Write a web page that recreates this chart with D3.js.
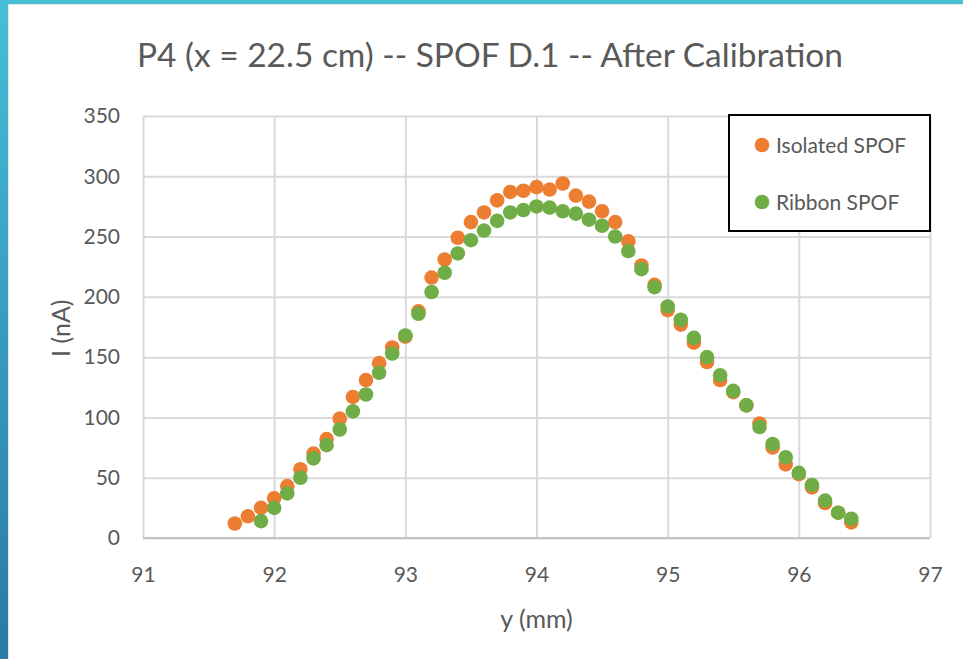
<!DOCTYPE html>
<html>
<head>
<meta charset="utf-8">
<script src="https://cdn.jsdelivr.net/npm/d3@7/dist/d3.min.js"></script>
<style>
  html, body { margin: 0; padding: 0; background: #ffffff; }
  #chart { width: 963px; height: 659px; overflow: hidden; }
  .tick text { font-family: Lato, "Open Sans", sans-serif; fill: #595959; }
</style>
</head>
<body>
<div id="chart"></div>
<script>
// y positions (mm), step 0.1
var isolatedY = [91.7, 91.8, 91.9, 92.0, 92.1, 92.2, 92.3, 92.4, 92.5, 92.6,
  92.7, 92.8, 92.9, 93.0, 93.1, 93.2, 93.3, 93.4, 93.5, 93.6,
  93.7, 93.8, 93.9, 94.0, 94.1, 94.2, 94.3, 94.4, 94.5, 94.6,
  94.7, 94.8, 94.9, 95.0, 95.1, 95.2, 95.3, 95.4, 95.5, 95.6,
  95.7, 95.8, 95.9, 96.0, 96.1, 96.2, 96.3, 96.4];
var isolatedI = [12, 18, 25, 33, 43, 57, 70, 82, 99, 117,
  131, 145, 158, 167, 188, 216, 231, 249, 262, 270,
  280, 287, 288, 291, 289, 294, 284, 279, 271, 262,
  246, 226, 210, 189, 177, 162, 146, 131, 121, 110,
  95, 75, 61, 53, 42, 29, 21, 13];

var ribbonY = [91.9, 92.0, 92.1, 92.2, 92.3, 92.4, 92.5, 92.6, 92.7, 92.8,
  92.9, 93.0, 93.1, 93.2, 93.3, 93.4, 93.5, 93.6, 93.7, 93.8,
  93.9, 94.0, 94.1, 94.2, 94.3, 94.4, 94.5, 94.6, 94.7, 94.8,
  94.9, 95.0, 95.1, 95.2, 95.3, 95.4, 95.5, 95.6, 95.7, 95.8,
  95.9, 96.0, 96.1, 96.2, 96.3, 96.4];
var ribbonI = [14, 25, 37, 50, 66, 77, 90, 105, 119, 137,
  153, 168, 186, 204, 220, 236, 247, 255, 263, 270,
  272, 275, 274, 271, 269, 264, 259, 250, 238, 223,
  208, 192, 181, 166, 150, 135, 122, 110, 92, 78,
  67, 54, 44, 31, 21, 16];

var xTicks = [91, 92, 93, 94, 95, 96, 97];
var yTicks = [0, 50, 100, 150, 200, 250, 300, 350];
var seriesNames = ["Isolated SPOF", "Ribbon SPOF"];

(function () {
  'use strict';

  const WIDTH = 963;
  const HEIGHT = 659;
  const COLOR_1 = '#ED7D31';
  const COLOR_2 = '#70AD47';
  const FONT = 'Lato, "Open Sans", sans-serif';
  const margin = { top: 116, right: 33, bottom: 121, left: 143 };

  var width = WIDTH - margin.left - margin.right;
  var height = HEIGHT - margin.top - margin.bottom;

  var svg = d3.select("#chart").append("svg")
    .attr("width", WIDTH)
    .attr("height", HEIGHT);

  /* slide background peeking at the left and top */
  var grad = svg.append("defs").append("linearGradient")
    .attr("id", "slideBg")
    .attr("x1", 0).attr("y1", 0).attr("x2", 0).attr("y2", 1);
  grad.append("stop").attr("offset", "0%").attr("stop-color", "#45bfd6");
  grad.append("stop").attr("offset", "100%").attr("stop-color", "#2a7aa3");

  svg.append("rect").attr("x", 0).attr("y", 0)
    .attr("width", WIDTH).attr("height", 4).style("fill", "#46bfd5");
  svg.append("rect").attr("x", 0).attr("y", 0)
    .attr("width", 8).attr("height", HEIGHT).style("fill", "url(#slideBg)");
  svg.append("line")
    .attr("x1", 8).attr("x2", WIDTH).attr("y1", 4.5).attr("y2", 4.5)
    .style("stroke", "#e6e6e6");
  svg.append("line")
    .attr("x1", 8.5).attr("x2", 8.5).attr("y1", 4).attr("y2", HEIGHT)
    .style("stroke", "#e6e6e6");

  var x = d3.scaleLinear().domain([91, 97]).range([0, width]);
  var y = d3.scaleLinear().domain([0, 350]).range([height, 0]);

  var g = svg.append("g")
    .attr("transform", "translate(" + margin.left + "," + margin.top + ")");

  var xAxis = d3.axisBottom(x)
    .tickValues(xTicks)
    .tickFormat(d3.format("d"))
    .tickSize(-height)
    .tickPadding(29);

  var yAxis = d3.axisLeft(y)
    .tickValues(yTicks)
    .tickFormat(d3.format("d"))
    .tickSize(-width)
    .tickPadding(23);

  var gx = g.append("g")
    .attr("class", "x axis")
    .attr("transform", "translate(0," + height + ")")
    .call(xAxis);

  var gy = g.append("g")
    .attr("class", "y axis")
    .call(yAxis);

  [gx, gy].forEach(function (ax) {
    ax.select(".domain").remove();
    ax.selectAll(".tick line")
      .style("stroke", "#d9d9d9")
      .style("stroke-width", 2);
    ax.selectAll(".tick text")
      .style("font-size", "21px");
  });

  // bottom axis line a little darker
  g.append("line")
    .attr("x1", x(91)).attr("x2", x(97))
    .attr("y1", y(0)).attr("y2", y(0))
    .style("stroke", "#c4c4c4")
    .style("stroke-width", 2);

  var isolatedData = isolatedY.map(function (d, i) { return { y: d, v: isolatedI[i] }; });
  var ribbonData = ribbonY.map(function (d, i) { return { y: d, v: ribbonI[i] }; });

  g.selectAll(".dot-isolated")
    .data(isolatedData)
    .enter().append("circle")
    .attr("class", "dot-isolated")
    .attr("cx", function (d) { return x(d.y); })
    .attr("cy", function (d) { return y(d.v); })
    .attr("r", 7.3)
    .style("fill", COLOR_1);

  g.selectAll(".dot-ribbon")
    .data(ribbonData)
    .enter().append("circle")
    .attr("class", "dot-ribbon")
    .attr("cx", function (d) { return x(d.y); })
    .attr("cy", function (d) { return y(d.v); })
    .attr("r", 7.3)
    .style("fill", COLOR_2);

  // title
  svg.append("text")
    .attr("x", 490)
    .attr("y", 67)
    .attr("text-anchor", "middle")
    .attr("textLength", 706)
    .attr("lengthAdjust", "spacingAndGlyphs")
    .style("font-family", FONT)
    .style("font-size", "33px")
    .style("fill", "#595959")
    .text("P4 (x = 22.5 cm) -- SPOF D.1 -- After Calibration");

  // axis titles
  svg.append("text")
    .attr("x", margin.left + x(94))
    .attr("y", 628)
    .attr("text-anchor", "middle")
    .style("font-family", FONT)
    .style("font-size", "25px")
    .style("fill", "#595959")
    .text("y (mm)");

  svg.append("text")
    .attr("transform", "translate(70," + (margin.top + y(174)) + ") rotate(-90)")
    .attr("text-anchor", "middle")
    .style("font-family", FONT)
    .style("font-size", "25px")
    .style("fill", "#595959")
    .text("I (nA)");

  // legend
  var legend = svg.append("g")
    .attr("transform", "translate(729,115)");

  legend.append("rect")
    .attr("width", 201)
    .attr("height", 116)
    .style("fill", "#ffffff")
    .style("stroke", "#000000")
    .style("stroke-width", 2);

  var items = legend.selectAll(".legend-item")
    .data(seriesNames)
    .enter().append("g")
    .attr("class", "legend-item")
    .attr("transform", function (d, i) { return "translate(33," + (30 + i * 57) + ")"; });

  items.append("circle")
    .attr("r", 7.3)
    .style("fill", function (d, i) { return i === 0 ? COLOR_1 : COLOR_2; });

  items.append("text")
    .attr("x", 14)
    .attr("dy", "0.36em")
    .style("font-family", FONT)
    .style("font-size", "21px")
    .style("fill", "#595959")
    .text(function (d) { return d; });
}());
</script>
</body>
</html>
